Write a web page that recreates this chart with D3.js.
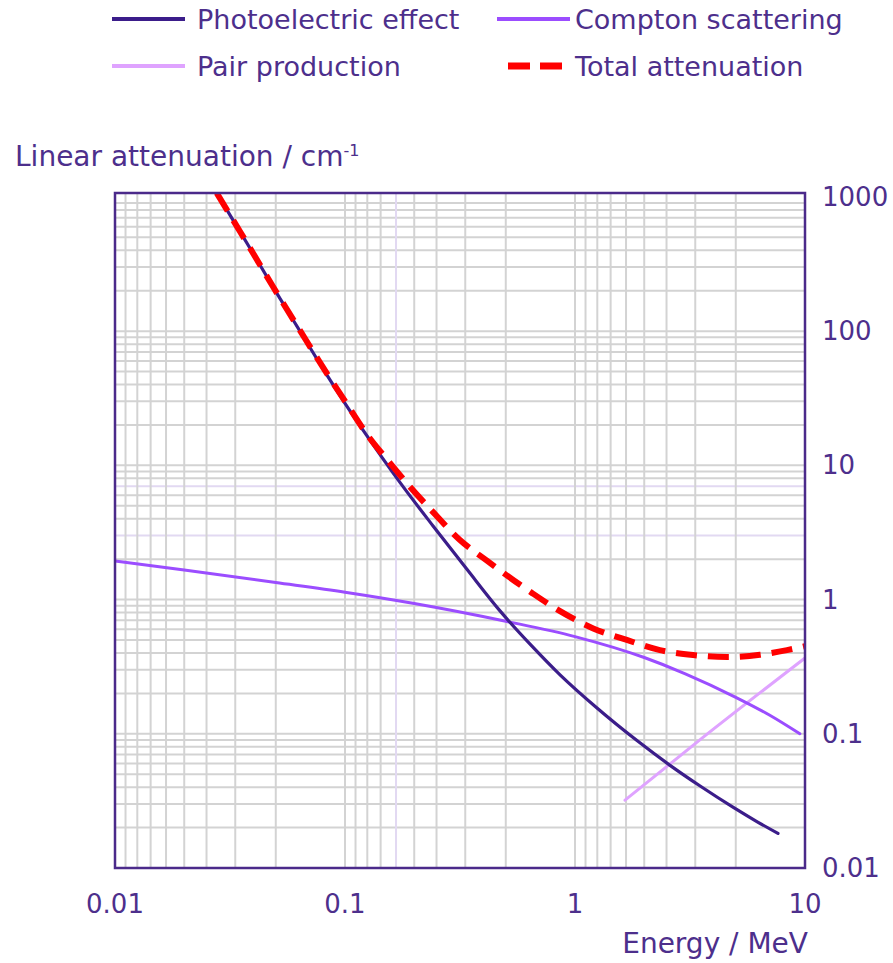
<!DOCTYPE html>
<html lang="en">
<head>
<meta charset="utf-8">
<title>Linear attenuation</title>
<script src="https://cdn.jsdelivr.net/npm/d3@7"></script>
<style>
  body { margin: 0; background: #fff; }
  text { font-family: "DejaVu Sans", Verdana, sans-serif; fill: #4d2f8c; }
</style>
</head>
<body>
<script>
// values (energy in MeV, attenuation in 1/cm)
var photoE = [0.0277, 0.0326, 0.0387, 0.0486, 0.0637, 0.0835, 0.1, 0.124, 0.173, 0.241, 0.339, 0.472, 0.65, 0.861, 1.25, 1.86, 2.59, 3.5, 4.86, 6.2, 7.63];
var photoV = [1070, 672, 413, 214, 100, 47, 29, 16.8, 7.5, 3.55, 1.68, 0.824, 0.45, 0.275, 0.155, 0.089, 0.0582, 0.0408, 0.0284, 0.0221, 0.0181];

var comptonE = [0.01, 0.02, 0.05, 0.1, 0.2, 0.5, 1, 2, 3, 5, 7, 9.5];
var comptonV = [1.94, 1.66, 1.34, 1.135, 0.935, 0.69, 0.53, 0.37, 0.281, 0.187, 0.138, 0.1];

var pairE = [1.65, 3.49, 10];
var pairV = [0.032, 0.090, 0.367];

var totalE = [0.0277, 0.0326, 0.0387, 0.0486, 0.0637, 0.0835, 0.1, 0.124, 0.157, 0.192, 0.241, 0.316, 0.414, 0.65, 0.861, 1.2, 1.68, 2.34, 3.26, 4.58, 6.37, 8.35, 10];
var totalV = [1070, 673, 414, 215, 101.3, 48.2, 30.1, 17.2, 10.4, 6.9, 4.5, 2.78, 1.95, 1.12, 0.82, 0.61, 0.50, 0.42, 0.386, 0.373, 0.388, 0.42, 0.45];

var xTicks = [0.01, 0.1, 1, 10];
var xTickLabels = ["0.01", "0.1", "1", "10"];
var yTicks = [1000, 100, 10, 1, 0.1, 0.01];
var yTickLabels = ["1000", "100", "10", "1", "0.1", "0.01"];

var legendNames = ["Photoelectric effect", "Compton scattering", "Pair production", "Total attenuation"];

var W = 893, H = 963;
var pL = 115, pR = 805, pT = 193, pB = 868;

var svg = d3.select("body").append("svg").attr("width", W).attr("height", H);

var x = d3.scaleLog().domain([0.01, 10]).range([pL, pR]);
var y = d3.scaleLog().domain([0.01, 1070]).range([pB, pT]);

// grid: horizontal lines are plain log steps, vertical ones are mirrored in each decade (as in the original)
var grid = svg.append("g");
var hVals = [], vVals = [];
[0.01, 0.1, 1, 10, 100].forEach(function(d){
  for (var k = 1; k <= 9; k++) hVals.push(d * k);
});
[0.01, 0.1, 1].forEach(function(d){
  for (var k = 1; k <= 9; k++) vVals.push(d * 10 / k);
});
var soft = [3, 7, 1/6];
function isSoft(d){ return soft.some(function(s){ return Math.abs(s - d) < 1e-6; }); }

grid.selectAll("line.h").data(hVals).enter().append("line")
  .attr("x1", pL).attr("x2", pR)
  .attr("y1", function(d){ return y(d); }).attr("y2", function(d){ return y(d); })
  .style("stroke", function(d){ return isSoft(d) ? "#e2d9f2" : "#d3d3d3"; })
  .style("stroke-width", 2);

grid.selectAll("line.v").data(vVals).enter().append("line")
  .attr("y1", pT).attr("y2", pB)
  .attr("x1", function(d){ return x(d); }).attr("x2", function(d){ return x(d); })
  .style("stroke", function(d){ return isSoft(d) ? "#e2d9f2" : "#d3d3d3"; })
  .style("stroke-width", 2);

svg.append("clipPath").attr("id", "plot")
  .append("rect").attr("x", pL).attr("y", pT).attr("width", pR - pL).attr("height", pB - pT);

var line = d3.line()
  .x(function(d){ return x(d[0]); })
  .y(function(d){ return y(d[1]); })
  .curve(d3.curveMonotoneX);

function pairs(es, vs){ return es.map(function(e, i){ return [e, vs[i]]; }); }

var series = [
  {data: pairs(pairE, pairV), color: "#dfa3ff", width: 3, dash: null},
  {data: pairs(comptonE, comptonV), color: "#9b4dff", width: 3, dash: null},
  {data: pairs(photoE, photoV), color: "#3b1d8a", width: 3.2, dash: null},
  {data: pairs(totalE, totalV), color: "#ff0000", width: 6, dash: "21,11"}
];

var plot = svg.append("g").attr("clip-path", "url(#plot)");
series.forEach(function(s){
  plot.append("path").datum(s.data)
    .attr("d", line)
    .style("fill", "none")
    .style("stroke", s.color)
    .style("stroke-width", s.width)
    .style("stroke-dasharray", s.dash)
    .style("stroke-linecap", s.dash ? "butt" : "round");
});

// frame
svg.append("rect")
  .attr("x", pL).attr("y", pT).attr("width", pR - pL).attr("height", pB - pT)
  .style("fill", "none").style("stroke", "#4b2a8a").style("stroke-width", 2.5);

// tick labels
svg.selectAll("text.xt").data(xTicks).enter().append("text")
  .attr("x", function(d){ return x(d); })
  .attr("y", 913)
  .attr("text-anchor", "middle")
  .style("font-size", "26px")
  .text(function(d, i){ return xTickLabels[i]; });

svg.selectAll("text.yt").data(yTicks).enter().append("text")
  .attr("x", 822)
  .attr("y", function(d){ return y(d) + 9; })
  .style("font-size", "26px")
  .text(function(d, i){ return yTickLabels[i]; });

// axis titles
var yt = svg.append("text").attr("x", 15).attr("y", 166).style("font-size", "28px");
yt.append("tspan").text("Linear attenuation / cm");
yt.append("tspan").attr("dy", -10).style("font-size", "16px").text("-1");

svg.append("text").attr("x", 808).attr("y", 953).attr("text-anchor", "end")
  .style("font-size", "28px").text("Energy / MeV");

// legend
var legendPos = [[112, 19], [497, 19], [112, 66], [508, 66]];
var legendSeries = [series[2], series[1], series[0], series[3]];
legendPos.forEach(function(p, i){
  var s = legendSeries[i];
  svg.append("line")
    .attr("x1", p[0]).attr("x2", i == 3 ? 565 : p[0] + 73)
    .attr("y1", p[1]).attr("y2", p[1])
    .style("stroke", s.color)
    .style("stroke-width", i == 3 ? 7 : 4)
    .style("stroke-dasharray", i == 3 ? "22,10" : null);
  svg.append("text")
    .attr("x", i % 2 == 0 ? 197 : 575)
    .attr("y", p[1] + 10)
    .style("font-size", "27px")
    .text(legendNames[i]);
});
</script>
</body>
</html>
